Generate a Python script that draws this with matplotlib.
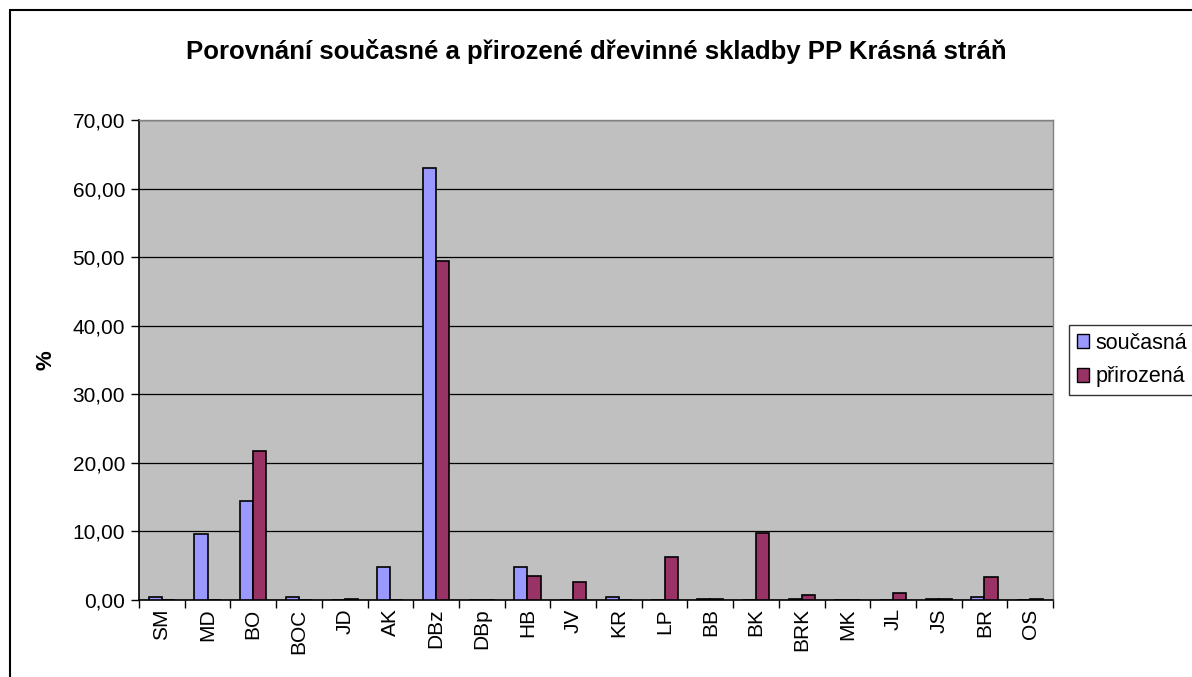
import matplotlib.pyplot as plt
import numpy as np
from matplotlib.patches import Patch, Rectangle
from matplotlib.ticker import FuncFormatter, FixedLocator

plt.rcParams['font.family'] = ['Liberation Sans', 'DejaVu Sans']

categories = ["SM", "MD", "BO", "BOC", "JD", "AK", "DBz", "DBp", "HB", "JV",
              "KR", "LP", "BB", "BK", "BRK", "MK", "JL", "JS", "BR", "OS"]
soucasna = [0.5, 9.6, 14.4, 0.5, 0.0, 4.8, 63.0, 0.0, 4.8, 0.0,
            0.5, 0.0, 0.2, 0.0, 0.2, 0.0, 0.0, 0.2, 0.5, 0.0]
prirozena = [0.0, 0.0, 21.7, 0.0, 0.2, 0.0, 49.5, 0.0, 3.5, 2.6,
             0.0, 6.2, 0.2, 9.8, 0.7, 0.0, 1.0, 0.2, 3.3, 0.2]

c_soucasna = "#9999FF"
c_prirozena = "#993366"

fig = plt.figure(figsize=(11.92, 6.77), dpi=100)
ax = fig.add_axes([139 / 1192, 77 / 677, 914 / 1192, 480 / 677])
ax.set_facecolor("#C0C0C0")

x = np.arange(len(categories))
w = 1 / 3.5
ax.bar(x - w / 2, soucasna, width=w, color=c_soucasna, edgecolor="black", linewidth=1.2, zorder=3)
ax.bar(x + w / 2, prirozena, width=w, color=c_prirozena, edgecolor="black", linewidth=1.2, zorder=3)

ax.set_xlim(-0.5, len(categories) - 0.5)
ax.set_ylim(0, 70)
ax.set_yticks(np.arange(0, 71, 10))
ax.yaxis.set_major_formatter(FuncFormatter(lambda v, p: f"{v:.2f}".replace(".", ",")))
ax.yaxis.grid(True, color="black", linewidth=0.9, zorder=1)

# ticks at category boundaries, labels at centres
ax.xaxis.set_major_locator(FixedLocator(np.arange(-0.5, len(categories), 1.0)))
ax.xaxis.set_major_formatter(FuncFormatter(lambda v, p: ""))
ax.set_xticks(x, minor=True)
ax.set_xticklabels(categories, minor=True, rotation=90, fontsize=15)
ax.tick_params(axis="x", which="minor", length=0, pad=6)
ax.tick_params(axis="x", which="major", length=6, width=1, direction="out")
ax.tick_params(axis="y", length=6, width=1, direction="out", labelsize=15, pad=4)

for s in ["top", "right"]:
    ax.spines[s].set_color("#808080")
    ax.spines[s].set_linewidth(1)
for s in ["left", "bottom"]:
    ax.spines[s].set_color("black")
    ax.spines[s].set_linewidth(1.2)

ax.set_ylabel("%", fontsize=16, fontweight="bold")
ax.yaxis.set_label_coords((56 - 139) / 914, 0.5)

fig.text(596 / 1192, 1 - 52 / 677,
         "Porovnání současné a přirozené dřevinné skladby PP Krásná stráň",
         ha="center", va="center", fontsize=18.5, fontweight="bold")

handles = [Patch(facecolor=c_soucasna, edgecolor="black", label="současná"),
           Patch(facecolor=c_prirozena, edgecolor="black", label="přirozená")]
leg = fig.legend(handles=handles, loc="center left", bbox_to_anchor=(1069 / 1192, 1 - 360 / 677),
                 fontsize=15.5, frameon=True, fancybox=False, handlelength=0.6, handleheight=0.6,
                 handletextpad=0.3, borderpad=0.35, labelspacing=0.6, borderaxespad=0)
leg.get_frame().set_edgecolor("black")
leg.get_frame().set_linewidth(1)

fig.patches.append(Rectangle((10 / 1192, -0.2), 1.2, 1.2 - 10 / 677,
                             transform=fig.transFigure, fill=False,
                             edgecolor="black", linewidth=1.5))

fig.savefig("out.png", dpi=100)
